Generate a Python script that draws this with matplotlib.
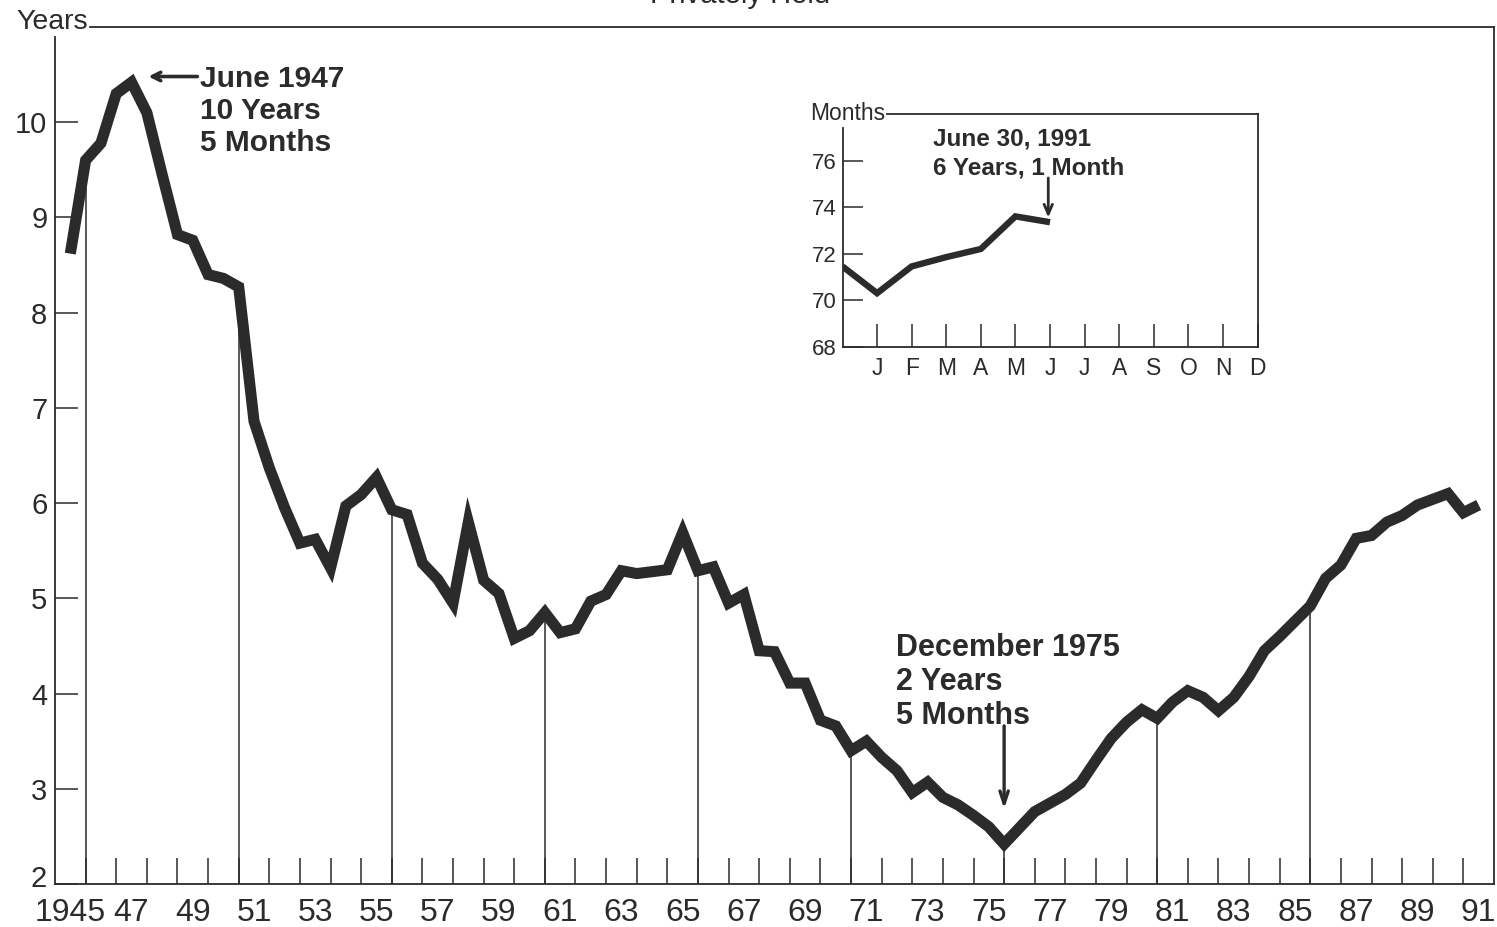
import matplotlib
matplotlib.use("Agg")
import matplotlib.pyplot as plt
import numpy as np

plt.rcParams['font.family'] = ['Liberation Sans', 'DejaVu Sans']

# ---------------- data ----------------
# semi-annual observations (June = year+0.5, December = year+1.0)
years = np.arange(1945.5, 1992.0, 0.5)
maturity_years = [
    8.62, 9.60, 9.78, 10.30, 10.42, 10.10, 9.45, 8.82, 8.76, 8.40,   # 1945.5-1950.0
    8.36, 8.27, 6.86, 6.37, 5.95, 5.58, 5.62, 5.32, 5.97, 6.09,      # 1950.5-1955.0
    6.27, 5.93, 5.88, 5.37, 5.20, 4.95, 5.80, 5.19, 5.05, 4.58,      # 1955.5-1960.0
    4.66, 4.85, 4.64, 4.68, 4.97, 5.04, 5.29, 5.26, 5.28, 5.30,      # 1960.5-1965.0
    5.69, 5.29, 5.33, 4.95, 5.04, 4.45, 4.44, 4.11, 4.11, 3.72,      # 1965.5-1970.0
    3.66, 3.40, 3.50, 3.33, 3.19, 2.96, 3.07, 2.91, 2.83, 2.72,      # 1970.5-1975.0
    2.60, 2.42, 2.59, 2.76, 2.85, 2.94, 3.06, 3.30, 3.53, 3.70,      # 1975.5-1980.0
    3.83, 3.74, 3.91, 4.03, 3.96, 3.82, 3.96, 4.18, 4.45, 4.60,      # 1980.5-1985.0
    4.76, 4.92, 5.21, 5.35, 5.63, 5.66, 5.80, 5.87, 5.98, 6.04,      # 1985.5-1990.0
    6.10, 5.90, 5.98,                                                # 1990.5-1991.5
]
drop_years = [1946, 1951, 1956, 1961, 1966, 1971, 1976, 1981, 1986]
y_ticks = [2, 3, 4, 5, 6, 7, 8, 9, 10]
x_label_pos = np.arange(1945.5, 1992.0, 2.0)
x_labels = ['1945'] + [f"{int(y) % 100:02d}" for y in x_label_pos[1:]]

# inset: monthly 1991 (months)
inset_x = [0, 1, 2, 3, 4, 5, 6]
inset_months = [71.45, 70.30, 71.45, 71.85, 72.20, 73.60, 73.35]
inset_month_labels = ['J', 'F', 'M', 'A', 'M', 'J', 'J', 'A', 'S', 'O', 'N', 'D']
inset_yticks = [68, 70, 72, 74, 76]

INK = '#2b2b2b'
W, H = 1497, 927


def rect(l, t, r, b):
    return [l / W, 1 - b / H, (r - l) / W, (b - t) / H]


fig = plt.figure(figsize=(W / 100, H / 100), dpi=100)
fig.patch.set_facecolor('white')

# ---------------- main axes ----------------
ax = fig.add_axes(rect(55, 27, 1494, 884))
ax.set_xlim(1945, 1992)
ax.set_ylim(2, 11)
ax.set_facecolor('none')

ax.plot(years, maturity_years, color=INK, lw=8.0, solid_joinstyle='miter',
        solid_capstyle='butt', zorder=5)
drop_vals = np.interp(drop_years, years, maturity_years)
ax.vlines(drop_years, 2, drop_vals, color=INK, lw=1.1, zorder=3)

for s in ['top', 'left']:
    ax.spines[s].set_visible(False)
for s in ['right', 'bottom']:
    ax.spines[s].set_color(INK)
    ax.spines[s].set_linewidth(1.3)
ax.plot([0, 0], [0, (884 - 37) / (884 - 27)], transform=ax.transAxes,
        color=INK, lw=1.3, clip_on=False)
ax.plot([(90 - 55) / (1494 - 55), 1], [1, 1], transform=ax.transAxes,
        color=INK, lw=1.3, clip_on=False)

ax.set_yticks(y_ticks)
# the bottom "2" is drawn separately, nudged up a little above the year labels
ax.set_yticklabels([''] + [str(v) for v in y_ticks[1:]])
ax.tick_params(axis='y', direction='in', length=16.6, width=1.1, color=INK,
               labelsize=21, pad=5.5, labelcolor=INK)
ax.annotate(str(y_ticks[0]), xy=(0, y_ticks[0]),
            xycoords=('axes fraction', 'data'), xytext=(-8, 5),
            textcoords='offset pixels', ha='right', va='center', fontsize=21,
            color=INK, annotation_clip=False)

ax.set_xticks(np.arange(1946, 1992), labels=[])
ax.set_xticks(x_label_pos, labels=x_labels, minor=True)
ax.tick_params(axis='x', which='major', direction='in', length=18.7, width=1.1,
               color=INK)
ax.tick_params(axis='x', which='minor', length=0, labelsize=23, pad=10,
               labelcolor=INK)

fig.text(88 / W, 1 - 22 / H, 'Years', ha='right', va='center', fontsize=20.5,
         color=INK)
fig.text(740 / W, 1 - 3 / H, 'Privately Held', ha='center', va='baseline',
         fontsize=21, color=INK)

# annotations
ax.annotate('', xy=(1948.05, 10.48), xytext=(1949.65, 10.48),
            arrowprops=dict(arrowstyle='->,head_length=0.6,head_width=0.3',
                            color=INK, lw=2.6, shrinkA=0, shrinkB=0))
ax.text(1949.72, 2 + (884 - 64) / 95.375, 'June 1947\n10 Years\n5 Months',
        fontsize=21.5, fontweight='bold', color=INK, ha='left', va='top',
        linespacing=1.17)

ax.text(1972.48, 2 + (884 - 633) / 95.375, 'December 1975\n2 Years\n5 Months',
        fontsize=22, fontweight='bold', color=INK, ha='left', va='top',
        linespacing=1.16)
ax.annotate('', xy=(1976.0, 2.79), xytext=(1976.0, 3.66),
            arrowprops=dict(arrowstyle='->,head_length=0.9,head_width=0.3',
                            color=INK, lw=2.4, shrinkA=0, shrinkB=0))

# ---------------- inset ----------------
axi = fig.add_axes(rect(842.5, 114, 1257.5, 346.7))
axi.set_xlim(0, 12)
axi.set_ylim(68, 78)
axi.set_facecolor('none')
axi.plot(inset_x, inset_months, color=INK, lw=4.6, solid_joinstyle='miter',
         solid_capstyle='butt', zorder=5)
for s in ['top', 'left']:
    axi.spines[s].set_visible(False)
for s in ['right', 'bottom']:
    axi.spines[s].set_color(INK)
    axi.spines[s].set_linewidth(1.3)
axi.plot([0, 0], [0, (346.7 - 128) / (346.7 - 114)], transform=axi.transAxes,
         color=INK, lw=1.3, clip_on=False)
axi.plot([(887 - 842.5) / (1257.5 - 842.5), 1], [1, 1], transform=axi.transAxes,
         color=INK, lw=1.3, clip_on=False)

axi.set_yticks(inset_yticks)
axi.set_yticklabels([str(v) for v in inset_yticks])
axi.tick_params(axis='y', direction='in', length=14.4, width=1.1, color=INK,
                labelsize=16, pad=4.5, labelcolor=INK)
axi.set_xticks(np.arange(1, 13), labels=inset_month_labels)
axi.tick_params(axis='x', direction='in', length=16.6, width=1.1, color=INK,
                labelsize=16.5, pad=7.5, labelcolor=INK)

fig.text(885 / W, 1 - 113.5 / H, 'Months', ha='right', va='center',
         fontsize=16.5, color=INK)
axi.text(2.62, 77.4, 'June 30, 1991\n6 Years, 1 Month', fontsize=17.5,
         fontweight='bold', color=INK, ha='left', va='top', linespacing=1.28)
axi.annotate('', xy=(5.95, 73.55), xytext=(5.95, 75.25),
             arrowprops=dict(arrowstyle='->,head_length=0.7,head_width=0.3',
                             color=INK, lw=2.0, shrinkA=0, shrinkB=0))

fig.savefig('out.png', dpi=100, facecolor='white')
